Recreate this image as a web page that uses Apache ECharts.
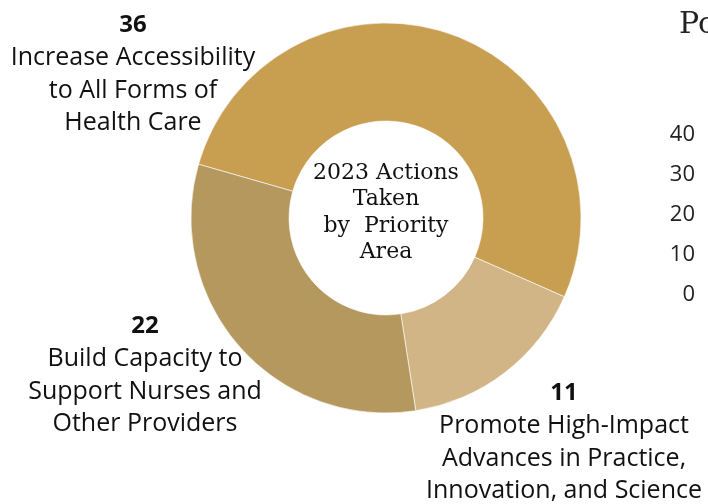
<!DOCTYPE html>
<html>
<head>
<meta charset="utf-8">
<script src="https://cdn.jsdelivr.net/npm/echarts@6/dist/echarts.min.js"></script>
<style>
  html, body { margin: 0; padding: 0; background: #fff; }
  #divChart { width: 708px; height: 504px; }
</style>
</head>
<body>
<div id="divChart"></div>
<script>
// actions by priority area
var areaNames = [
    "Increase Accessibility\nto All Forms of\nHealth Care",
    "Promote High-Impact\nAdvances in Practice,\nInnovation, and Science",
    "Build Capacity to\nSupport Nurses and\nOther Providers"
];
var areaValues = [36, 11, 22];
var areaColors = ["#C89E50", "#D1B587", "#B5985E"];
var centerText = "2023 Actions\nTaken\nby  Priority\nArea";

// the next chart, cut at the right edge
var nextTitle = "Po";
var nextTicks = [0, 10, 20, 30, 40];

var labelSpots = [
    {x: 133, y: 9},
    {x: 564, y: 377},
    {x: 145, y: 310}
];

var myChart = echarts.init(document.getElementById('divChart'));

var pieData = [];
areaValues.forEach(function (v, i) {
    pieData.push({
        value: v,
        name: areaNames[i],
        itemStyle: {color: areaColors[i]}
    });
});

var option = {
    animation: false,
    title: {
        text: nextTitle,
        left: 674,
        top: 5,
        textStyle: {
            fontFamily: "DejaVu Serif",
            fontWeight: "normal",
            fontSize: 30,
            color: "#222"
        }
    },
    graphic: [{
        type: "text",
        x: 386,
        y: 213,
        style: {
            text: centerText,
            align: "center",
            verticalAlign: "middle",
            font: "22px 'DejaVu Serif'",
            lineHeight: 26.5,
            fill: "#111"
        }
    }],
    grid: {
        left: 700,
        right: 0,
        top: 135,
        bottom: 209
    },
    xAxis: {
        type: "category",
        show: false,
        data: ["a"]
    },
    yAxis: {
        type: "value",
        min: nextTicks[0],
        max: nextTicks[nextTicks.length - 1],
        interval: 10,
        axisLine: {show: false},
        axisTick: {show: false},
        splitLine: {show: false},
        axisLabel: {
            margin: 5,
            fontFamily: "Open Sans",
            fontSize: 22,
            color: "#222"
        }
    },
    series: [{
        name: "Actions",
        type: "pie",
        center: [386, 218],
        radius: [97, 195],
        startAngle: 164,
        clockwise: true,
        itemStyle: {
            borderColor: "#fff",
            borderWidth: 0.6
        },
        label: {
            show: true,
            position: "outside",
            overflow: "none",
            formatter: function (p) {
                var lines = p.name.split("\n").map(function (s) {
                    return "{n|" + s + "}";
                });
                return "{v|" + p.value + "}\n" + lines.join("\n");
            },
            rich: {
                v: {
                    fontFamily: "Open Sans",
                    fontWeight: "bold",
                    fontSize: 24,
                    color: "#111",
                    lineHeight: 33,
                    align: "center"
                },
                n: {
                    fontFamily: "Open Sans",
                    fontSize: 25,
                    color: "#111",
                    lineHeight: 32.5,
                    align: "center"
                }
            }
        },
        labelLine: {show: false},
        labelLayout: function (params) {
            var s = labelSpots[params.dataIndex];
            return {
                x: s.x,
                y: s.y,
                align: "center",
                verticalAlign: "top"
            };
        },
        data: pieData
    }]
};
myChart.setOption(option);
</script>
</body>
</html>
